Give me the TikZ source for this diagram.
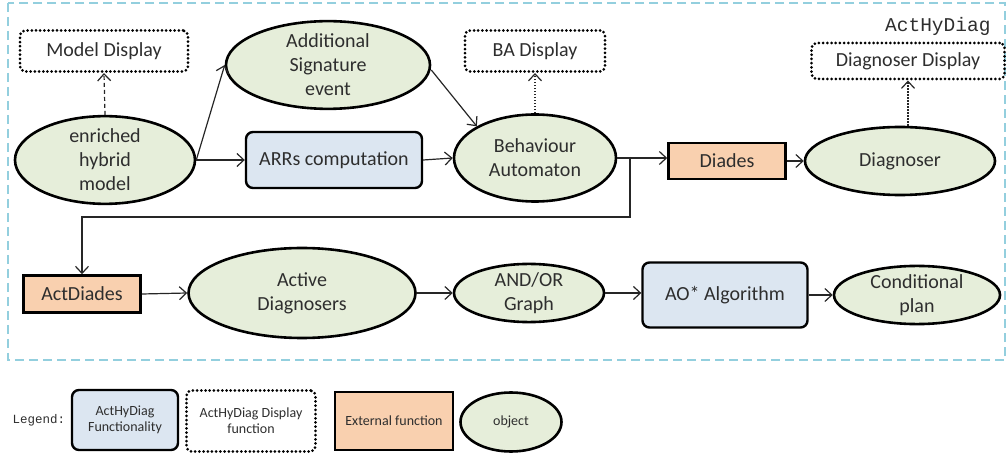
\documentclass[tikz,border=0pt]{standalone}
\usepackage{fontspec}
\setmainfont{Carlito}
\newfontfamily\monof{Liberation Mono}
\usetikzlibrary{shapes.geometric,arrows.meta}
\definecolor{objfill}{HTML}{E6EEDA}
\definecolor{funcfill}{HTML}{DCE6F1}
\definecolor{extfill}{HTML}{F9D0AF}
\definecolor{frameblue}{HTML}{93CFDE}
\definecolor{txt}{HTML}{2E2E2E}
\begin{document}
\begin{tikzpicture}[x=1pt,y=-1pt,
  every node/.style={font=\fontsize{20}{24}\selectfont, align=center, text=txt},
  obj/.style={ellipse, draw, line width=2.6pt, fill=objfill, inner sep=0pt},
  func/.style={rectangle, rounded corners=7pt, draw, line width=2.4pt, fill=funcfill, inner sep=0pt},
  ext/.style={rectangle, draw, line width=2.6pt, fill=extfill, inner sep=0pt},
  disp/.style={rectangle, rounded corners=5pt, draw, line width=3pt, dash pattern=on 0pt off 4.2pt, line cap=round, inner sep=0pt},
  arr/.style={-{Straight Barb[length=7pt,width=13pt]}, line width=1.2pt, draw=black!85},
  darr/.style={arr, dash pattern=on 4pt off 3pt},
  dotarr/.style={arr, dash pattern=on 1.5pt off 1.5pt}]
\useasboundingbox (0,0) rectangle (1007,454);
\draw[frameblue, line width=2.4pt, dash pattern=on 9pt off 5pt] (8,3) rectangle (1005,360);
\node[font=\monof\fontsize{19.5}{22}\selectfont, anchor=east] (title) at (994,26) {ActHyDiag};

% top row
\node[disp, minimum width=168pt, minimum height=41pt] (md) at (104,51) {Model Display};
\node[obj, minimum width=180pt, minimum height=87pt] (ehm) at (105,160) {enriched\\hybrid\\model};
\node[obj, minimum width=204pt, minimum height=86pt] (ase) at (328,65) {Additional\\Signature\\event};
\node[func, minimum width=176pt, minimum height=56pt] (arr) at (334,160) {ARRs computation};
\node[obj, minimum width=162pt, minimum height=87pt] (ba) at (535,158) {Behaviour\\Automaton};
\node[disp, minimum width=140pt, minimum height=41pt] (bad) at (535,51) {BA Display};
\node[ext, minimum width=117pt, minimum height=36pt] (diades) at (727,161) {Diades};
\node[obj, minimum width=190pt, minimum height=68pt] (diag) at (900,161) {Diagnoser};
\node[disp, minimum width=193pt, minimum height=36pt] (dd) at (908,61) {Diagnoser Display};

% bottom row
\node[ext, minimum width=117pt, minimum height=37pt] (actd) at (82,294) {ActDiades};
\node[obj, minimum width=227pt, minimum height=90pt] (ad) at (302,293) {Active\\Diagnosers};
\node[obj, minimum width=150pt, minimum height=58pt] (aog) at (529,293) {AND/OR\\Graph};
\node[func, minimum width=165pt, minimum height=65pt] (ao) at (725,295) {AO* Algorithm};
\node[obj, minimum width=166pt, minimum height=56pt] (cp) at (917,295) {Conditional\\plan};

% connectors
\draw[darr] (ehm.north) -- (md.south);
\draw[arr] (ehm.east) -- (ase.west);
\draw[arr] (ehm.east) -- (arr.west);
\draw[arr] (arr.east) -- (ba.west);
\draw[arr] (ase.east) ++(0,5) -- (ba.north west);
\draw[dotarr] (ba.north) -- (bad.south);
\draw[arr] (ba.east) -- (diades.west |- ba.east);
\coordinate (br) at (630,157);
\coordinate (br2) at (630,217);
\draw[arr] (br) -- (br2) -- (actd.north |- br2) -- (actd.north);
\draw[arr] (diades.east) -- (diag.west);
\draw[dotarr] (diag.north -| dd.south) -- (dd.south);
\draw[arr] (actd.east) -- (ad.west);
\draw[arr] (ad.east) -- (aog.west);
\draw[arr] (aog.east) -- (ao.west |- aog.east);
\draw[arr] (ao.east) -- (cp.west);

% legend
\node[font=\monof\fontsize{12.5}{14}\selectfont, anchor=west] (leg) at (9,420) {Legend:};
\node[func, font=\fontsize{14}{16}\selectfont, minimum width=106pt, minimum height=60pt] (l1) at (125,420) {ActHyDiag\\Functionality};
\node[disp, font=\fontsize{14}{16}\selectfont, minimum width=129pt, minimum height=61pt] (l2) at (251,421) {ActHyDiag Display\\function};
\node[ext, font=\fontsize{14}{16}\selectfont, minimum width=118pt, minimum height=58pt] (l3) at (394,421) {External function};
\node[obj, font=\fontsize{14}{16}\selectfont, minimum width=101pt, minimum height=59pt] (l4) at (511,422) {object};
\end{tikzpicture}
\end{document}
